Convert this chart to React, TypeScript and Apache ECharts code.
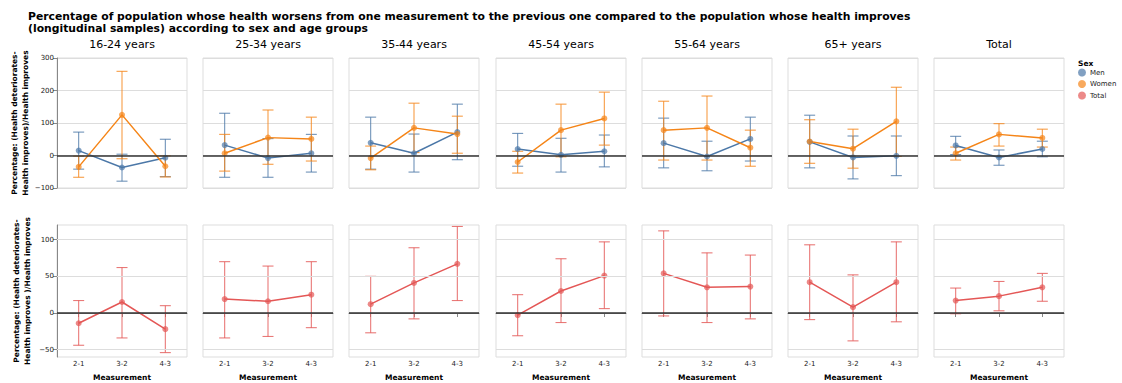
import React, { useEffect, useRef } from 'react';
import * as echarts from 'echarts';

// Measurement transitions on the x axis of every facet
const MEASUREMENTS = ['2-1', '3-2', '4-3'];
// Facet columns
const AGE_GROUPS = ['16-24 years', '25-34 years', '35-44 years', '45-54 years', '55-64 years', '65+ years', 'Total'];
const SEXES = ['Men', 'Women', 'Total'];

// Men: point estimate and confidence interval per age group × measurement
const MEN_VALUE = [[15, -37, -7], [32, -8, 7], [39, 7, 72], [20, 2, 13], [38, -3, 51], [42, -6, -1], [31, -6, 20]];
const MEN_LOW = [[-42, -79, -65], [-67, -67, -51], [-42, -51, -13], [-33, -51, -35], [-38, -47, -17], [-38, -72, -62], [3, -30, -4]];
const MEN_HIGH = [[72, 4, 50], [130, 52, 65], [118, 66, 158], [68, 53, 63], [115, 44, 118], [124, 60, 60], [59, 17, 44]];

// Women
const WOMEN_VALUE = [[-35, 125, -33], [7, 55, 51], [-8, 85, 66], [-20, 78, 114], [78, 85, 24], [43, 21, 105], [7, 65, 54]];
const WOMEN_LOW = [[-67, -10, -66], [-48, -27, -17], [-44, 9, 7], [-54, -4, 32], [-14, -14, -33], [-24, -39, -3], [-14, 29, 26]];
const WOMEN_HIGH = [[-2, 259, -1], [65, 140, 118], [29, 161, 121], [13, 158, 195], [167, 183, 78], [110, 81, 210], [26, 98, 81]];

// Both sexes together
const TOTAL_VALUE = [[-14, 15, -22], [19, 16, 25], [12, 41, 67], [-3, 30, 51], [54, 35, 36], [42, 8, 42], [17, 23, 35]];
const TOTAL_LOW = [[-44, -34, -54], [-34, -32, -20], [-27, -8, 17], [-31, -13, 6], [-4, -13, -8], [-9, -38, -12], [-1, 3, 16]];
const TOTAL_HIGH = [[17, 62, 10], [70, 64, 70], [50, 89, 118], [25, 74, 97], [112, 82, 79], [93, 52, 97], [34, 43, 54]];

const TOP_AXIS = { min: -100, max: 300, interval: 100 };
const BOTTOM_AXIS = { min: -60, max: 120 };
const BOTTOM_TICKS = [-50, 0, 50, 100];

const COLORS: Record<string, string> = { Men: '#4c78a8', Women: '#f58518', Total: '#e45756' };
const FONT = 'DejaVu Sans';

const TITLE_LINES = [
  'Percentage of population whose health worsens from one measurement to the previous one compared to the population whose health improves',
  '(longitudinal samples) according to sex and age groups',
];
const Y_TITLE_TOP = 'Percentage: (Health deteriorates-\nHealth improves)/Health improves';
const Y_TITLE_BOTTOM = 'Percentage: (Health deteriorates-\nHealth improves )/Health improves';

const PANEL_W = 130;
const PANEL_STEP = 146.2;
const PANEL_X0 = 57;
const ROWS = [
  { top: 58, height: 130 },
  { top: 225, height: 132 },
];

const minusSign = (v: number) => String(v).replace('-', '\u2212');

function errorBarRenderer(color: string) {
  return (_params: any, api: any) => {
    const k = api.value(0);
    const lo = api.coord([k, api.value(1)]);
    const hi = api.coord([k, api.value(2)]);
    const w = 5.5;
    const style = { stroke: color, lineWidth: 1.1, opacity: 0.8 };
    return {
      type: 'group',
      children: [
        { type: 'line', shape: { x1: lo[0], y1: lo[1], x2: hi[0], y2: hi[1] }, style },
        { type: 'line', shape: { x1: lo[0] - w, y1: lo[1], x2: lo[0] + w, y2: lo[1] }, style },
        { type: 'line', shape: { x1: hi[0] - w, y1: hi[1], x2: hi[0] + w, y2: hi[1] }, style },
      ],
    };
  };
}

function buildOption() {
  const grids: any[] = [];
  const xAxes: any[] = [];
  const yAxes: any[] = [];
  const series: any[] = [];
  const graphics: any[] = [];

  TITLE_LINES.forEach((t, i) => {
    graphics.push({
      type: 'text', x: 28, y: 16 + i * 12,
      style: { text: t, font: `bold 10.8px "${FONT}"`, fill: '#000', textAlign: 'left', textVerticalAlign: 'middle' },
    });
  });

  const addSexSeries = (idx: number, sex: string, vals: number[], lows: number[], highs: number[]) => {
    const color = COLORS[sex];
    series.push({
      type: 'custom',
      name: sex + ' interval',
      xAxisIndex: idx,
      yAxisIndex: idx,
      z: 3,
      silent: true,
      renderItem: errorBarRenderer(color),
      encode: { x: 0, y: [1, 2] },
      data: MEASUREMENTS.map((_, k) => [k, lows[k], highs[k]]),
    });
    series.push({
      type: 'line',
      name: sex,
      xAxisIndex: idx,
      yAxisIndex: idx,
      z: 4,
      data: vals,
      symbol: 'circle',
      symbolSize: 6,
      lineStyle: { color, width: 1.5 },
      itemStyle: { color, opacity: 0.7 },
      emphasis: { disabled: true },
    });
  };

  ROWS.forEach((row, r) => {
    AGE_GROUPS.forEach((group, c) => {
      const idx = r * AGE_GROUPS.length + c;
      const left = Math.round(PANEL_X0 + c * PANEL_STEP);
      const first = c === 0;
      grids.push({
        left, top: row.top, width: PANEL_W, height: row.height,
        show: true, borderColor: '#ddd', borderWidth: 1, backgroundColor: 'transparent',
        containLabel: false,
      });
      xAxes.push({
        type: 'category',
        gridIndex: idx,
        data: MEASUREMENTS,
        boundaryGap: true,
        axisLine: { show: r === 1, lineStyle: { color: '#888', width: 1 } },
        axisTick: { show: r === 1, alignWithLabel: true, length: 4, lineStyle: { color: '#888' } },
        axisLabel: { show: r === 1, fontSize: 7, color: '#222', margin: 3, fontFamily: FONT },
        splitLine: { show: false },
        name: r === 1 ? 'Measurement' : '',
        nameLocation: 'middle',
        nameGap: 16,
        nameTextStyle: { fontWeight: 'bold', fontSize: 7.5, color: '#000', fontFamily: FONT },
      });
      const yBase: any = {
        type: 'value',
        gridIndex: idx,
        axisLine: { show: first, lineStyle: { color: '#888', width: 1 } },
        axisTick: { show: first, length: 4, lineStyle: { color: '#888' } },
        axisLabel: { show: first, fontSize: 7, color: '#222', margin: 3, fontFamily: FONT, formatter: minusSign },
        name: first ? (r === 0 ? Y_TITLE_TOP : Y_TITLE_BOTTOM) : '',
        nameLocation: 'middle',
        nameRotate: 90,
        nameGap: 24,
        nameTextStyle: { fontWeight: 'bold', fontSize: 7.5, lineHeight: 11, color: '#000', fontFamily: FONT, align: 'center' },
      };
      if (r === 0) {
        yAxes.push({
          ...yBase,
          ...TOP_AXIS,
          splitLine: { show: true, lineStyle: { color: '#ddd', width: 1 } },
        });
      } else {
        yAxes.push({
          ...yBase,
          ...BOTTOM_AXIS,
          axisTick: { ...yBase.axisTick, customValues: BOTTOM_TICKS },
          axisLabel: { ...yBase.axisLabel, customValues: BOTTOM_TICKS },
          splitLine: { show: false },
        });
      }

      // Reference lines: grid lines for the lower row and the zero rule
      const refLines: any[] = [];
      if (r === 1) {
        BOTTOM_TICKS.filter((v) => v !== 0).forEach((v) =>
          refLines.push({ yAxis: v, lineStyle: { color: '#ddd', width: 1, type: 'solid' } }),
        );
      }
      refLines.push({ yAxis: 0, lineStyle: { color: '#333', width: 1.5, type: 'solid' } });
      series.push({
        type: 'line',
        name: 'reference',
        xAxisIndex: idx,
        yAxisIndex: idx,
        z: 1,
        data: [],
        silent: true,
        markLine: {
          silent: true,
          symbol: ['none', 'none'],
          label: { show: false },
          emphasis: { disabled: true },
          data: refLines,
        },
      });

      if (r === 0) {
        addSexSeries(idx, 'Men', MEN_VALUE[c], MEN_LOW[c], MEN_HIGH[c]);
        addSexSeries(idx, 'Women', WOMEN_VALUE[c], WOMEN_LOW[c], WOMEN_HIGH[c]);
        graphics.push({
          type: 'text', x: left + PANEL_W / 2, y: 44.5,
          style: { text: group, font: `11px "${FONT}"`, fill: '#000', textAlign: 'center', textVerticalAlign: 'middle' },
        });
      } else {
        addSexSeries(idx, 'Total', TOTAL_VALUE[c], TOTAL_LOW[c], TOTAL_HIGH[c]);
      }
    });
  });

  graphics.push({
    type: 'text', x: 1078, y: 63,
    style: { text: 'Sex', font: `bold 7.5px "${FONT}"`, fill: '#000', textAlign: 'left', textVerticalAlign: 'middle' },
  });

  return {
    animation: false,
    textStyle: { fontFamily: FONT },
    grid: grids,
    xAxis: xAxes,
    yAxis: yAxes,
    series,
    graphic: graphics,
    legend: {
      orient: 'vertical',
      left: 1078,
      top: 68.5,
      padding: 0,
      itemWidth: 8,
      itemHeight: 8,
      itemGap: 3.5,
      selectedMode: false,
      icon: 'circle',
      textStyle: { fontSize: 7, color: '#222', fontFamily: FONT, padding: [0, 0, 0, -1] },
      data: SEXES.map((s) => ({ name: s, itemStyle: { color: COLORS[s], opacity: 0.7 } })),
    },
  };
}

export default function App() {
  const ref = useRef<HTMLDivElement>(null);
  useEffect(() => {
    if (!ref.current) return;
    const chart = echarts.init(ref.current, undefined, { renderer: 'svg' });
    chart.setOption(buildOption() as any);
    return () => chart.dispose();
  }, []);
  return (
    <div
      ref={ref}
      style={{ position: 'fixed', left: 0, top: 0, width: 1122, height: 383, background: '#fff' }}
    />
  );
}
